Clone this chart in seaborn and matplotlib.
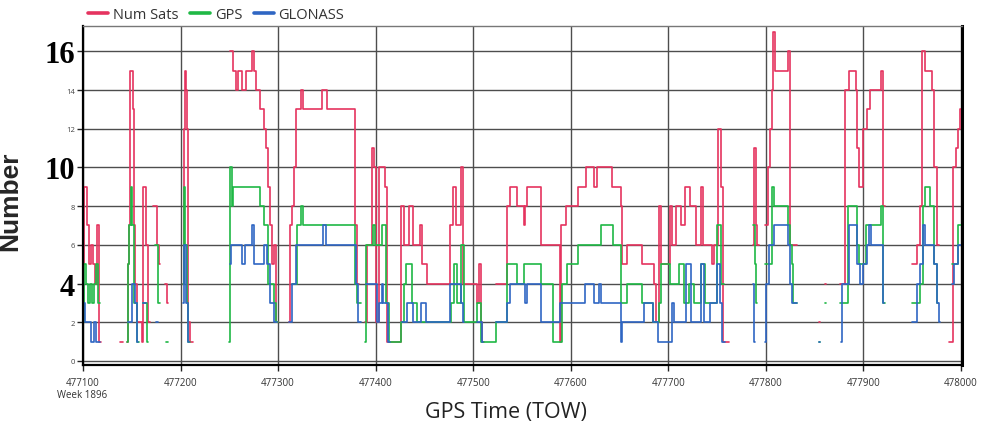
import numpy as np
import pandas as pd
import seaborn as sns
import matplotlib.pyplot as plt
from matplotlib.lines import Line2D

nan = np.nan

# step breakpoints: (GPS time of week [s], count), nan = no fix from here
num_sats = [
    (477100, 5), (477101, 9), (477104, 7), (477106, 5), (477108, 6), (477110, 5), (477112, 4), (477114, 7), (477116, 1), (477118, nan),
    (477138, 1), (477141, nan),
    (477145, 1), (477146, 5), (477147, 7), (477148, 15), (477151, 13), (477152, 7), (477153, 4), (477155, 2), (477160, 1), (477162, 9), (477165, 6), (477167, 2), (477169, nan),
    (477172, 8), (477176, 6), (477178, 5), (477179, nan),
    (477184, 4), (477186, 3), (477187, nan),
    (477203, 4), (477204, 12), (477205, 15), (477206, 14), (477207, 12), (477208, 2), (477210, 1), (477213, nan),
    (477251, 16), (477254, 15), (477257, 14), (477259, 15), (477263, 14), (477267, 15), (477273, 16), (477275, 15), (477277, 14),
    (477281, 13), (477286, 12), (477288, 11), (477290, 9), (477292, 7), (477294, 5), (477296, 6), (477298, 2), (477300, nan),
    (477311, 2), (477312, 7), (477314, 8), (477316, 10), (477318, 13), (477323, 14), (477326, 13), (477345, 14), (477350, 13),
    (477379, 7), (477381, 4), (477383, nan),
    (477389, 2), (477391, 6), (477396, 11), (477398, 10), (477400, 2), (477403, 10), (477410, 9), (477412, 1), (477426, 8), (477429, 6),
    (477434, 8), (477438, 6), (477445, 7), (477447, 5), (477453, 4), (477476, 7), (477479, 9), (477482, 7), (477487, 10), (477489, 4),
    (477504, 3), (477506, 5), (477508, 2), (477509, 1), (477511, nan),
    (477523, 4), (477535, 8), (477538, 9), (477545, 8), (477552, 7), (477553, 8), (477555, 9), (477569, 6), (477589, 1), (477590, 7),
    (477595, 8), (477607, 9), (477616, 10), (477624, 9), (477627, 10), (477642, 9), (477651, 8), (477653, 5), (477658, 6), (477673, 5),
    (477685, 4), (477687, 2), (477690, 8), (477692, 5), (477702, 8), (477704, 6), (477708, 8), (477713, 7), (477717, 9), (477722, 8),
    (477728, 6), (477733, 9), (477736, 6), (477745, 5), (477747, 6), (477751, 12), (477754, 9), (477756, 1), (477762, nan),
    (477787, 6), (477788, 11), (477790, 7), (477791, 6), (477793, nan),
    (477799, 7), (477802, 10), (477804, 12), (477806, 14), (477807, 17), (477809, 15), (477823, 16), (477825, 6), (477832, nan),
    (477854, 2), (477855, nan), (477861, 4), (477862, nan),
    (477876, 4), (477881, 14), (477885, 15), (477892, 14), (477893, 11), (477895, 9), (477900, 12), (477904, 13), (477907, 14),
    (477918, 15), (477920, 8), (477922, nan),
    (477950, 5), (477955, 6), (477958, 8), (477960, 16), (477963, 15), (477970, 14), (477972, 10), (477975, 6), (477977, nan),
    (477988, 1), (477992, 10), (477995, 11), (477997, 12), (477999, 13), (478000, nan),
]

gps = [
    (477100, 2), (477101, 5), (477103, 4), (477105, 3), (477107, 4), (477109, 3), (477111, 4), (477113, 5), (477115, 3), (477117, nan),
    (477145, 1), (477146, 5), (477147, 7), (477149, 9), (477150, 7), (477152, 3), (477155, 1), (477157, nan),
    (477162, 3), (477166, 1), (477167, nan),
    (477174, 6), (477177, 3), (477179, nan),
    (477185, 1), (477187, nan),
    (477202, 4), (477204, 9), (477205, 6), (477207, 3), (477208, 1), (477210, nan),
    (477250, 1), (477251, 10), (477253, 8), (477254, 9), (477281, 8), (477286, 7), (477290, 4), (477296, 3), (477298, 2), (477300, nan),
    (477314, 4), (477319, 7), (477323, 8), (477326, 7), (477379, 4), (477381, 3), (477385, nan),
    (477389, 1), (477390, 6), (477397, 7), (477399, 6), (477406, 7), (477411, 3), (477414, 1), (477426, 2), (477429, 4), (477431, 5),
    (477437, 3), (477442, 2), (477477, 3), (477480, 5), (477483, 3), (477487, 6), (477491, 2), (477504, 3), (477508, 1), (477523, 2),
    (477535, 5), (477545, 4), (477552, 5), (477569, 4), (477582, 1), (477591, 4), (477596, 5), (477607, 6), (477631, 7), (477643, 6),
    (477651, 3), (477658, 4), (477673, 3), (477684, 2), (477690, 3), (477692, 5), (477702, 4), (477711, 5), (477716, 3), (477721, 4),
    (477726, 3), (477733, 5), (477738, 3), (477750, 7), (477754, 4), (477757, nan),
    (477787, 7), (477789, 5), (477790, 3), (477791, nan),
    (477799, 5), (477806, 9), (477808, 8), (477823, 7), (477825, 6), (477827, 5), (477828, 3), (477832, nan),
    (477854, 1), (477855, nan), (477861, 3), (477862, nan),
    (477876, 3), (477884, 8), (477893, 6), (477895, 5), (477903, 7), (477918, 8), (477920, 3), (477922, nan),
    (477950, 3), (477958, 4), (477961, 8), (477963, 9), (477968, 8), (477972, 5), (477975, 3), (477976, nan),
    (477991, 5), (477997, 7), (478000, nan),
]

glonass = [
    (477100, 3), (477102, 2), (477108, 1), (477111, 2), (477113, 1), (477117, nan),
    (477146, 2), (477150, 4), (477153, 3), (477155, 1), (477156, nan),
    (477162, 3), (477165, nan),
    (477175, 2), (477177, nan),
    (477203, 3), (477204, 6), (477206, 3), (477208, 1), (477209, nan),
    (477251, 5), (477252, 6), (477263, 5), (477266, 6), (477273, 7), (477275, 5), (477286, 6), (477289, 5), (477292, 3), (477296, 2), (477299, nan),
    (477311, 2), (477314, 4), (477318, 6), (477346, 7), (477349, 6), (477380, 4), (477382, 2), (477385, nan),
    (477390, 4), (477401, 2), (477403, 3), (477406, 4), (477408, 3), (477413, 1), (477415, nan),
    (477427, 2), (477432, 3), (477438, 2), (477446, 3), (477452, 2), (477476, 4), (477487, 3), (477490, 2), (477491, nan),
    (477504, 2), (477509, 1), (477510, nan),
    (477523, 2), (477535, 3), (477538, 4), (477553, 3), (477555, 4), (477569, 2), (477589, 3), (477615, 4), (477624, 3), (477629, 4),
    (477631, 3), (477651, 1), (477652, 2), (477675, 3), (477684, 2), (477689, 1), (477704, 3), (477706, 2), (477718, 5), (477723, 2),
    (477733, 5), (477737, 2), (477743, 3), (477750, 5), (477753, 3), (477755, 1), (477758, nan),
    (477787, 4), (477788, 1), (477789, nan),
    (477799, 1), (477800, 4), (477803, 6), (477808, 7), (477823, 6), (477825, 4), (477827, 3), (477832, nan),
    (477854, 1), (477855, nan),
    (477877, 1), (477878, 4), (477885, 7), (477893, 5), (477896, 4), (477900, 5), (477904, 6), (477906, 7), (477908, 6), (477920, 3), (477921, nan),
    (477950, 2), (477955, 4), (477958, 5), (477961, 7), (477963, 6), (477972, 5), (477975, 3), (477977, 2), (477978, nan),
    (477991, 4), (477993, 5), (477997, 6), (478000, nan),
]

series_names = ["Num Sats", "GPS", "GLONASS"]
colors = ["#E5335F", "#1FB845", "#2F66C3"]
y_ticks = [0, 2, 4, 6, 8, 10, 12, 14, 16]
big_ticks = [4, 10, 16]
x_ticks = [477100, 477200, 477300, 477400, 477500, 477600, 477700, 477800, 477900, 478000]


def to_frame(points):
    # split into gap-free pieces, each piece closed at the gap time
    rows, seg, prev = [], 0, None
    for t, v in points:
        if np.isnan(v):
            if prev is not None:
                rows.append((t, prev, seg))
            seg += 1
            prev = None
        else:
            rows.append((t, v, seg))
            prev = v
    return pd.DataFrame(rows, columns=["t", "n", "seg"])


sns.set_theme(style="white")
plt.rcParams["font.family"] = ["Open Sans", "DejaVu Sans"]

fig = plt.figure(figsize=(9.82, 4.31), dpi=100)
ax = fig.add_axes([83 / 982, 1 - 366 / 431, 879 / 982, 339 / 431])

for pts, c in zip([num_sats, gps, glonass], colors):
    sns.lineplot(data=to_frame(pts), x="t", y="n", units="seg", estimator=None,
                 color=c, lw=1.2, drawstyle="steps-post", legend=False, ax=ax)

ax.set_xlim(477100, 478001)
ax.set_ylim(-0.21, 17.31)
ax.set_xticks(x_ticks)
ax.set_xticklabels([str(x) for x in x_ticks], fontsize=7, color="#333333")
ax.set_yticks(y_ticks)
ax.set_yticklabels([str(y) for y in y_ticks], fontsize=5.5, color="#444444")
for lab, y in zip(ax.get_yticklabels(), y_ticks):
    if y in big_ticks:
        lab.set_fontsize(22)
        lab.set_fontfamily("Liberation Serif")
        lab.set_fontweight("bold")
        lab.set_color("black")

ax.grid(True, color="#4d4d4d", lw=1.0)
ax.tick_params(axis="both", direction="out", length=4, width=1, color="#222222", pad=2,
               left=True, bottom=True)
ax.tick_params(axis="x", pad=5)
ax.spines["left"].set_color("black")
ax.spines["left"].set_linewidth(1.6)
ax.spines["right"].set_color("black")
ax.spines["right"].set_linewidth(2.2)
ax.spines["top"].set_color("#777777")
ax.spines["top"].set_linewidth(1.0)
ax.spines["bottom"].set_color("black")
ax.spines["bottom"].set_linewidth(1.6)

ax.set_ylabel("Number", fontsize=19, fontweight="bold", family="Liberation Sans")
ax.yaxis.set_label_coords(-0.069, 0.487)
ax.set_xlabel("GPS Time (TOW)", fontsize=15.5, color="#222222")
ax.xaxis.set_label_coords(0.481, -0.106)

fig.text(82 / 982, 1 - 396 / 431, "Week 1896", ha="center", va="center", fontsize=7, color="#333333")

handles = [Line2D([], [], color=c, lw=2.6) for c in colors]
fig.legend(handles, series_names, loc="upper left", bbox_to_anchor=(85 / 982, 0.988), ncol=3,
           frameon=False, fontsize=10.5, handlelength=1.4, handletextpad=0.3, columnspacing=0.8,
           borderaxespad=0.1, borderpad=0.1, labelcolor="#333333")

fig.savefig("out.png", dpi=100)
